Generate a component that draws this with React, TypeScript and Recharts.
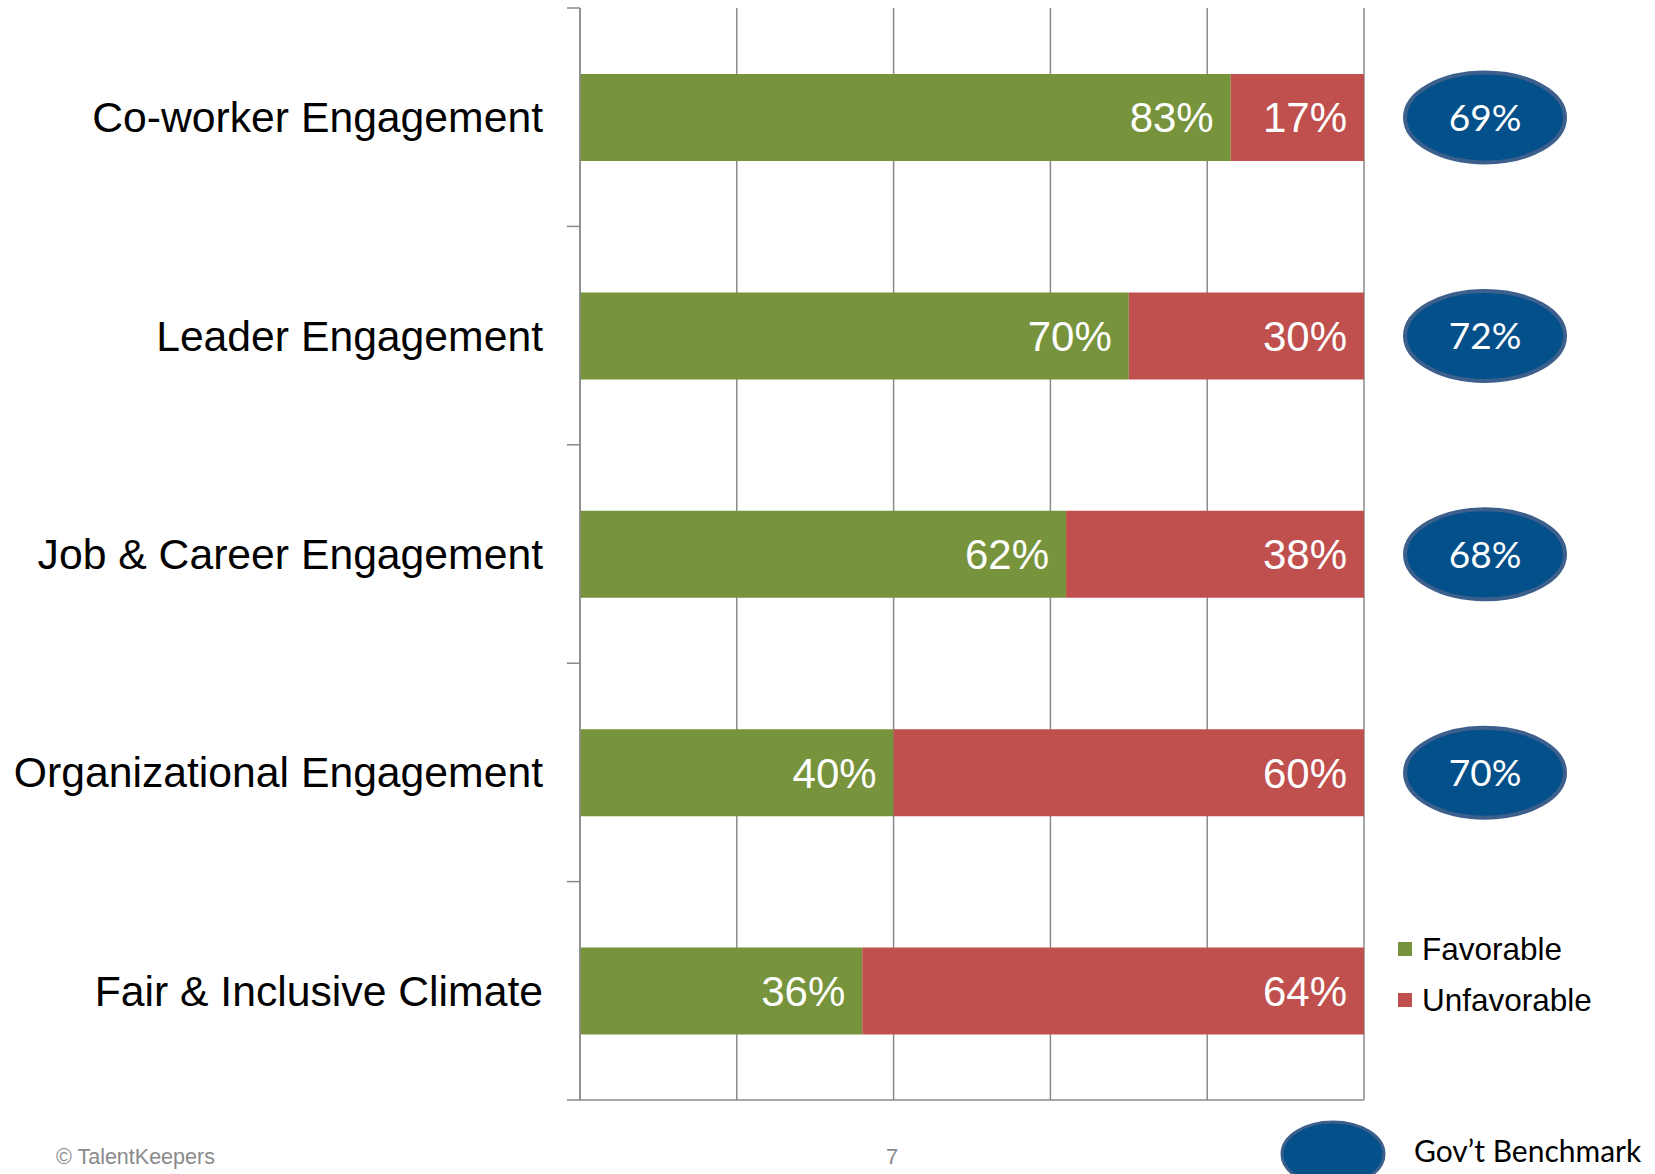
import { BarChart, Bar, XAxis, YAxis, CartesianGrid, LabelList } from "recharts";

const CATEGORIES = [
  "Co-worker Engagement",
  "Leader Engagement",
  "Job & Career Engagement",
  "Organizational Engagement",
  "Fair & Inclusive Climate",
];
const FAVORABLE = [83, 70, 62, 40, 36];
const UNFAVORABLE = [17, 30, 38, 60, 64];
const BENCHMARK: (number | null)[] = [69, 72, 68, 70, null];
const X_TICKS = [0, 20, 40, 60, 80, 100];
const SERIES = ["Favorable", "Unfavorable"];

const GREEN = "#77933C";
const RED = "#C0504D";
const BLUE = "#03508A";
const BLUE_EDGE = "#3C5F8C";
const AXIS = "#8a8a8a";

const W = 1655;
const H = 1174;
const MARGIN = { top: 8, right: 291, bottom: 73, left: 0 };
const AXIS_W = 580;
const X_AXIS_H = 1;
const BAND = (H - MARGIN.top - MARGIN.bottom - X_AXIS_H) / CATEGORIES.length;

const data = CATEGORIES.map((name, i) => ({
  name,
  favorable: FAVORABLE[i],
  unfavorable: UNFAVORABLE[i],
  benchmark: BENCHMARK[i],
}));

// category label plus tick marks on the band edges (not the centres)
function CategoryTick(props: any) {
  const { y, payload, index } = props;
  const ax = AXIS_W;
  return (
    <g>
      <line x1={ax - 13} x2={ax} y1={y - BAND / 2} y2={y - BAND / 2} stroke={AXIS} strokeWidth={1.5} />
      {index === CATEGORIES.length - 1 && (
        <line x1={ax - 13} x2={ax} y1={y + BAND / 2} y2={y + BAND / 2} stroke={AXIS} strokeWidth={1.5} />
      )}
      <text x={ax - 37} y={y} dy="0.35em" textAnchor="end" fontSize={42.7} fill="#000">
        {payload.value}
      </text>
    </g>
  );
}

function renderBenchmark(props: any) {
  const { x, y, width, height, value } = props;
  if (value == null) return null;
  const cx = Number(x) + Number(width) + 121;
  const cy = Number(y) + Number(height) / 2;
  return (
    <g>
      <ellipse cx={cx} cy={cy} rx={80} ry={45} fill={BLUE} stroke={BLUE_EDGE} strokeWidth={4} />
      <text x={cx} y={cy} dy="0.36em" textAnchor="middle" fill="#fff" fontSize={37} fontFamily="Lato, 'Open Sans', sans-serif">
        {value}%
      </text>
    </g>
  );
}

export default function App() {
  return (
    <div
      style={{
        position: "absolute",
        left: 0,
        top: 0,
        width: W,
        height: H,
        background: "#fff",
        fontFamily: "'Liberation Sans', Arial, sans-serif",
      }}
    >
      <BarChart width={W} height={H} data={data} layout="vertical" margin={MARGIN} barSize={87}>
        <CartesianGrid horizontal={false} stroke={AXIS} strokeWidth={1.5} verticalValues={X_TICKS} />
        <XAxis type="number" domain={[0, 100]} ticks={X_TICKS} tick={{ fill: "transparent", fontSize: 1 }}
          tickLine={false} height={X_AXIS_H} axisLine={{ stroke: AXIS, strokeWidth: 1.5 }} />
        <YAxis type="category" dataKey="name" width={AXIS_W} interval={0} tickLine={false}
          axisLine={{ stroke: AXIS, strokeWidth: 1.5 }} tick={<CategoryTick />} />
        <Bar dataKey="favorable" name={SERIES[0]} stackId="a" fill={GREEN} isAnimationActive={false}>
          <LabelList dataKey="favorable" position="insideRight" offset={17} fill="#fff" fontSize={42}
            formatter={(v: any) => `${v}%`} />
        </Bar>
        <Bar dataKey="unfavorable" name={SERIES[1]} stackId="a" fill={RED} isAnimationActive={false}>
          <LabelList dataKey="unfavorable" position="insideRight" offset={17} fill="#fff" fontSize={42}
            formatter={(v: any) => `${v}%`} />
          <LabelList dataKey="benchmark" content={renderBenchmark} />
        </Bar>
      </BarChart>

      {/* legend */}
      {SERIES.map((s, i) => (
        <div key={s} style={{ position: "absolute", left: 1398, top: 949 + i * 51 - 20, height: 40, display: "flex", alignItems: "center" }}>
          <div style={{ width: 14, height: 14, background: i === 0 ? GREEN : RED, marginRight: 10 }} />
          <span style={{ fontSize: 31.5, color: "#000" }}>{s}</span>
        </div>
      ))}

      <svg style={{ position: "absolute", left: 0, top: 0 }} width={W} height={H} pointerEvents="none">
        <ellipse cx={1333} cy={1154} rx={51} ry={32} fill={BLUE} stroke={BLUE_EDGE} strokeWidth={3} />
      </svg>
      <div style={{ position: "absolute", left: 1414, top: 1130, height: 40, lineHeight: "40px", fontSize: 30, fontFamily: "Lato, sans-serif", color: "#000" }}>
        Gov’t Benchmark
      </div>

      {/* footer */}
      <div style={{ position: "absolute", left: 56, top: 1143, lineHeight: "28px", fontSize: 21.5, color: "#8a8a8a", fontFamily: "'Liberation Sans Narrow', 'Liberation Sans', sans-serif" }}>
        © TalentKeepers
      </div>
      <div style={{ position: "absolute", left: 886, top: 1143, lineHeight: "28px", fontSize: 22, color: "#8a8a8a" }}>7</div>
    </div>
  );
}
